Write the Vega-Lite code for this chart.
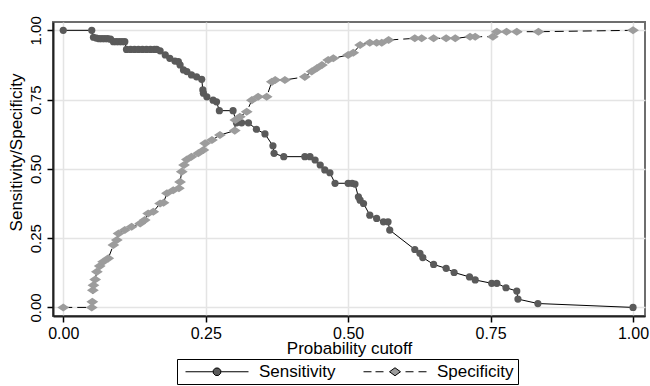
{
  "$schema": "https://vega.github.io/schema/vega-lite/v6.json",
  "width": 592,
  "height": 294,
  "autosize": {"type": "none"},
  "padding": {"left": 53, "top": 22, "right": 5, "bottom": 70},
  "background": "white",
  "config": {
    "font": "Liberation Sans",
    "view": {"stroke": "#6e6e6e", "strokeWidth": 2},
    "axis": {
      "labelColor": "black",
      "titleColor": "black",
      "titleFontWeight": "normal",
      "tickColor": "black",
      "tickWidth": 1.5,
      "tickSize": 6,
      "domainColor": "#222222",
      "domainWidth": 2,
      "gridColor": "#e4e4e4",
      "gridWidth": 1.5,
      "labelFont": "Liberation Sans",
      "titleFont": "Liberation Sans"
    },
    "legend": {
      "title": null,
      "orient": "none",
      "legendX": 124,
      "legendY": 337,
      "direction": "horizontal",
      "symbolSize": 256,
      "symbolOpacity": 1,
      "symbolStrokeWidth": 1,
      "labelFontSize": 17,
      "labelFont": "Liberation Sans",
      "labelColor": "black",
      "labelOffset": 61,
      "columnPadding": 23,
      "padding": 4,
      "strokeColor": "black",
      "fillColor": "white",
      "cornerRadius": 0
    }
  },
  "data": {
    "values": [
      {"cutoff": 0.0, "value": 1.0, "series": "Sensitivity"},
      {"cutoff": 0.05, "value": 1.0, "series": "Sensitivity"},
      {"cutoff": 0.053, "value": 0.975, "series": "Sensitivity"},
      {"cutoff": 0.058, "value": 0.972, "series": "Sensitivity"},
      {"cutoff": 0.063, "value": 0.97, "series": "Sensitivity"},
      {"cutoff": 0.068, "value": 0.97, "series": "Sensitivity"},
      {"cutoff": 0.073, "value": 0.97, "series": "Sensitivity"},
      {"cutoff": 0.078, "value": 0.97, "series": "Sensitivity"},
      {"cutoff": 0.083, "value": 0.968, "series": "Sensitivity"},
      {"cutoff": 0.088, "value": 0.959, "series": "Sensitivity"},
      {"cutoff": 0.093, "value": 0.959, "series": "Sensitivity"},
      {"cutoff": 0.098, "value": 0.959, "series": "Sensitivity"},
      {"cutoff": 0.103, "value": 0.959, "series": "Sensitivity"},
      {"cutoff": 0.108, "value": 0.959, "series": "Sensitivity"},
      {"cutoff": 0.111, "value": 0.931, "series": "Sensitivity"},
      {"cutoff": 0.118, "value": 0.931, "series": "Sensitivity"},
      {"cutoff": 0.125, "value": 0.931, "series": "Sensitivity"},
      {"cutoff": 0.132, "value": 0.931, "series": "Sensitivity"},
      {"cutoff": 0.139, "value": 0.931, "series": "Sensitivity"},
      {"cutoff": 0.146, "value": 0.931, "series": "Sensitivity"},
      {"cutoff": 0.153, "value": 0.931, "series": "Sensitivity"},
      {"cutoff": 0.16, "value": 0.931, "series": "Sensitivity"},
      {"cutoff": 0.164, "value": 0.931, "series": "Sensitivity"},
      {"cutoff": 0.17, "value": 0.926, "series": "Sensitivity"},
      {"cutoff": 0.179, "value": 0.911, "series": "Sensitivity"},
      {"cutoff": 0.187, "value": 0.899, "series": "Sensitivity"},
      {"cutoff": 0.196, "value": 0.889, "series": "Sensitivity"},
      {"cutoff": 0.202, "value": 0.887, "series": "Sensitivity"},
      {"cutoff": 0.205, "value": 0.875, "series": "Sensitivity"},
      {"cutoff": 0.211, "value": 0.857, "series": "Sensitivity"},
      {"cutoff": 0.217, "value": 0.851, "series": "Sensitivity"},
      {"cutoff": 0.225, "value": 0.839, "series": "Sensitivity"},
      {"cutoff": 0.234, "value": 0.832, "series": "Sensitivity"},
      {"cutoff": 0.243, "value": 0.823, "series": "Sensitivity"},
      {"cutoff": 0.245, "value": 0.785, "series": "Sensitivity"},
      {"cutoff": 0.246, "value": 0.773, "series": "Sensitivity"},
      {"cutoff": 0.252, "value": 0.76, "series": "Sensitivity"},
      {"cutoff": 0.263, "value": 0.748, "series": "Sensitivity"},
      {"cutoff": 0.269, "value": 0.742, "series": "Sensitivity"},
      {"cutoff": 0.274, "value": 0.71, "series": "Sensitivity"},
      {"cutoff": 0.298, "value": 0.71, "series": "Sensitivity"},
      {"cutoff": 0.304, "value": 0.666, "series": "Sensitivity"},
      {"cutoff": 0.313, "value": 0.666, "series": "Sensitivity"},
      {"cutoff": 0.325, "value": 0.666, "series": "Sensitivity"},
      {"cutoff": 0.339, "value": 0.643, "series": "Sensitivity"},
      {"cutoff": 0.354, "value": 0.626, "series": "Sensitivity"},
      {"cutoff": 0.368, "value": 0.583, "series": "Sensitivity"},
      {"cutoff": 0.37, "value": 0.556, "series": "Sensitivity"},
      {"cutoff": 0.387, "value": 0.544, "series": "Sensitivity"},
      {"cutoff": 0.424, "value": 0.544, "series": "Sensitivity"},
      {"cutoff": 0.433, "value": 0.544, "series": "Sensitivity"},
      {"cutoff": 0.442, "value": 0.532, "series": "Sensitivity"},
      {"cutoff": 0.451, "value": 0.514, "series": "Sensitivity"},
      {"cutoff": 0.459, "value": 0.496, "series": "Sensitivity"},
      {"cutoff": 0.468, "value": 0.486, "series": "Sensitivity"},
      {"cutoff": 0.477, "value": 0.448, "series": "Sensitivity"},
      {"cutoff": 0.5, "value": 0.448, "series": "Sensitivity"},
      {"cutoff": 0.507, "value": 0.448, "series": "Sensitivity"},
      {"cutoff": 0.512, "value": 0.445, "series": "Sensitivity"},
      {"cutoff": 0.518, "value": 0.399, "series": "Sensitivity"},
      {"cutoff": 0.521, "value": 0.387, "series": "Sensitivity"},
      {"cutoff": 0.527, "value": 0.375, "series": "Sensitivity"},
      {"cutoff": 0.538, "value": 0.333, "series": "Sensitivity"},
      {"cutoff": 0.55, "value": 0.321, "series": "Sensitivity"},
      {"cutoff": 0.562, "value": 0.309, "series": "Sensitivity"},
      {"cutoff": 0.57, "value": 0.309, "series": "Sensitivity"},
      {"cutoff": 0.573, "value": 0.279, "series": "Sensitivity"},
      {"cutoff": 0.617, "value": 0.209, "series": "Sensitivity"},
      {"cutoff": 0.626, "value": 0.195, "series": "Sensitivity"},
      {"cutoff": 0.631, "value": 0.18, "series": "Sensitivity"},
      {"cutoff": 0.65, "value": 0.155, "series": "Sensitivity"},
      {"cutoff": 0.672, "value": 0.141, "series": "Sensitivity"},
      {"cutoff": 0.686, "value": 0.126, "series": "Sensitivity"},
      {"cutoff": 0.713, "value": 0.11, "series": "Sensitivity"},
      {"cutoff": 0.723, "value": 0.099, "series": "Sensitivity"},
      {"cutoff": 0.752, "value": 0.087, "series": "Sensitivity"},
      {"cutoff": 0.761, "value": 0.087, "series": "Sensitivity"},
      {"cutoff": 0.777, "value": 0.071, "series": "Sensitivity"},
      {"cutoff": 0.796, "value": 0.059, "series": "Sensitivity"},
      {"cutoff": 0.798, "value": 0.03, "series": "Sensitivity"},
      {"cutoff": 0.833, "value": 0.014, "series": "Sensitivity"},
      {"cutoff": 1.0, "value": 0.0, "series": "Sensitivity"},
      {"cutoff": 0.0, "value": 0.0, "series": "Specificity"},
      {"cutoff": 0.05, "value": 0.0, "series": "Specificity"},
      {"cutoff": 0.051, "value": 0.02, "series": "Specificity"},
      {"cutoff": 0.052, "value": 0.062, "series": "Specificity"},
      {"cutoff": 0.053, "value": 0.08, "series": "Specificity"},
      {"cutoff": 0.056, "value": 0.101, "series": "Specificity"},
      {"cutoff": 0.059, "value": 0.129, "series": "Specificity"},
      {"cutoff": 0.064, "value": 0.149, "series": "Specificity"},
      {"cutoff": 0.07, "value": 0.165, "series": "Specificity"},
      {"cutoff": 0.079, "value": 0.177, "series": "Specificity"},
      {"cutoff": 0.088, "value": 0.225, "series": "Specificity"},
      {"cutoff": 0.094, "value": 0.243, "series": "Specificity"},
      {"cutoff": 0.097, "value": 0.267, "series": "Specificity"},
      {"cutoff": 0.108, "value": 0.279, "series": "Specificity"},
      {"cutoff": 0.12, "value": 0.291, "series": "Specificity"},
      {"cutoff": 0.135, "value": 0.303, "series": "Specificity"},
      {"cutoff": 0.143, "value": 0.315, "series": "Specificity"},
      {"cutoff": 0.149, "value": 0.339, "series": "Specificity"},
      {"cutoff": 0.158, "value": 0.345, "series": "Specificity"},
      {"cutoff": 0.17, "value": 0.375, "series": "Specificity"},
      {"cutoff": 0.176, "value": 0.378, "series": "Specificity"},
      {"cutoff": 0.182, "value": 0.412, "series": "Specificity"},
      {"cutoff": 0.193, "value": 0.423, "series": "Specificity"},
      {"cutoff": 0.203, "value": 0.43, "series": "Specificity"},
      {"cutoff": 0.205, "value": 0.453, "series": "Specificity"},
      {"cutoff": 0.208, "value": 0.49, "series": "Specificity"},
      {"cutoff": 0.212, "value": 0.514, "series": "Specificity"},
      {"cutoff": 0.217, "value": 0.534, "series": "Specificity"},
      {"cutoff": 0.225, "value": 0.544, "series": "Specificity"},
      {"cutoff": 0.237, "value": 0.556, "series": "Specificity"},
      {"cutoff": 0.246, "value": 0.568, "series": "Specificity"},
      {"cutoff": 0.249, "value": 0.592, "series": "Specificity"},
      {"cutoff": 0.261, "value": 0.604, "series": "Specificity"},
      {"cutoff": 0.275, "value": 0.622, "series": "Specificity"},
      {"cutoff": 0.301, "value": 0.638, "series": "Specificity"},
      {"cutoff": 0.302, "value": 0.676, "series": "Specificity"},
      {"cutoff": 0.31, "value": 0.688, "series": "Specificity"},
      {"cutoff": 0.322, "value": 0.706, "series": "Specificity"},
      {"cutoff": 0.331, "value": 0.748, "series": "Specificity"},
      {"cutoff": 0.342, "value": 0.76, "series": "Specificity"},
      {"cutoff": 0.357, "value": 0.76, "series": "Specificity"},
      {"cutoff": 0.366, "value": 0.814, "series": "Specificity"},
      {"cutoff": 0.372, "value": 0.821, "series": "Specificity"},
      {"cutoff": 0.389, "value": 0.821, "series": "Specificity"},
      {"cutoff": 0.424, "value": 0.832, "series": "Specificity"},
      {"cutoff": 0.436, "value": 0.851, "series": "Specificity"},
      {"cutoff": 0.445, "value": 0.863, "series": "Specificity"},
      {"cutoff": 0.454, "value": 0.875, "series": "Specificity"},
      {"cutoff": 0.465, "value": 0.893, "series": "Specificity"},
      {"cutoff": 0.474, "value": 0.899, "series": "Specificity"},
      {"cutoff": 0.5, "value": 0.911, "series": "Specificity"},
      {"cutoff": 0.509, "value": 0.919, "series": "Specificity"},
      {"cutoff": 0.521, "value": 0.947, "series": "Specificity"},
      {"cutoff": 0.538, "value": 0.955, "series": "Specificity"},
      {"cutoff": 0.55, "value": 0.955, "series": "Specificity"},
      {"cutoff": 0.559, "value": 0.955, "series": "Specificity"},
      {"cutoff": 0.571, "value": 0.965, "series": "Specificity"},
      {"cutoff": 0.617, "value": 0.971, "series": "Specificity"},
      {"cutoff": 0.629, "value": 0.971, "series": "Specificity"},
      {"cutoff": 0.65, "value": 0.971, "series": "Specificity"},
      {"cutoff": 0.672, "value": 0.971, "series": "Specificity"},
      {"cutoff": 0.688, "value": 0.971, "series": "Specificity"},
      {"cutoff": 0.714, "value": 0.977, "series": "Specificity"},
      {"cutoff": 0.723, "value": 0.977, "series": "Specificity"},
      {"cutoff": 0.754, "value": 0.977, "series": "Specificity"},
      {"cutoff": 0.761, "value": 0.995, "series": "Specificity"},
      {"cutoff": 0.778, "value": 0.995, "series": "Specificity"},
      {"cutoff": 0.796, "value": 0.995, "series": "Specificity"},
      {"cutoff": 0.834, "value": 0.995, "series": "Specificity"},
      {"cutoff": 1.0, "value": 1.0, "series": "Specificity"}
    ]
  },
  "encoding": {
    "x": {
      "field": "cutoff",
      "type": "quantitative",
      "scale": {"domain": [-0.018, 1.021], "nice": false, "zero": false},
      "axis": {
        "values": [0, 0.25, 0.5, 0.75, 1],
        "format": ".2f",
        "labelFontSize": 16,
        "labelPadding": 3,
        "labelFlush": false,
        "title": "Probability cutoff",
        "titleFontSize": 17,
        "titlePadding": -1
      }
    },
    "y": {
      "field": "value",
      "type": "quantitative",
      "scale": {"domain": [-0.031, 1.03], "nice": false, "zero": false},
      "axis": {
        "values": [0, 0.25, 0.5, 0.75, 1],
        "format": ".2f",
        "labelFontSize": 15,
        "labelAngle": 270,
        "labelAlign": "center",
        "labelBaseline": "alphabetic",
        "labelPadding": 7,
        "labelFlush": false,
        "title": "Sensitivity/Specificity",
        "titleFontSize": 17,
        "titlePadding": 3,
        "titleY": 130
      }
    }
  },
  "layer": [
    {
      "transform": [{"filter": "datum.series === 'Sensitivity'"}],
      "mark": {"type": "line", "color": "black", "strokeWidth": 1},
      "encoding": {}
    },
    {
      "transform": [{"filter": "datum.series === 'Specificity'"}],
      "mark": {"type": "line", "color": "black", "strokeWidth": 1, "strokeDash": [9, 5]},
      "encoding": {}
    },
    {
      "mark": {"type": "point", "filled": true, "opacity": 1, "strokeWidth": 0},
      "encoding": {
        "fill": {
          "condition": {"test": "datum.series === 'Sensitivity'", "value": "#5a5a5a"},
          "value": "#9c9c9c"
        },
        "size": {
          "condition": {"test": "datum.series === 'Sensitivity'", "value": 52},
          "value": 140
        },
        "shape": {
          "condition": {"test": "datum.series === 'Sensitivity'", "value": "circle"},
          "value": "M-1,0L0,-0.68L1,0L0,0.68Z"
        }
      }
    },
    {
      "transform": [{"filter": "false"}],
      "mark": {"type": "point", "filled": true, "strokeWidth": 1, "opacity": 1},
      "encoding": {
        "fill": {
          "field": "series",
          "type": "nominal",
          "scale": {"domain": ["Sensitivity", "Specificity"], "range": ["#5a5a5a", "#9c9c9c"]}
        },
        "stroke": {
          "field": "series",
          "type": "nominal",
          "scale": {"domain": ["Sensitivity", "Specificity"], "range": ["black", "black"]}
        },
        "shape": {
          "field": "series",
          "type": "nominal",
          "scale": {
            "domain": ["Sensitivity", "Specificity"],
            "range": [
              "M-0.5,0H2.9375M3.9375,0H7.375M3.8995,0.191L3.6285,0.462L3.2465,0.462L2.9755,0.191L2.9755,-0.191L3.2465,-0.462L3.6285,-0.462L3.8995,-0.191Z",
              "M-0.5,0H0.5M1,0H2M4.75,0H5.75M6.375,0H7.375M2.75,0L3.4375,-0.5L4.125,0L3.4375,0.5Z"
            ]
          }
        }
      }
    }
  ]
}
